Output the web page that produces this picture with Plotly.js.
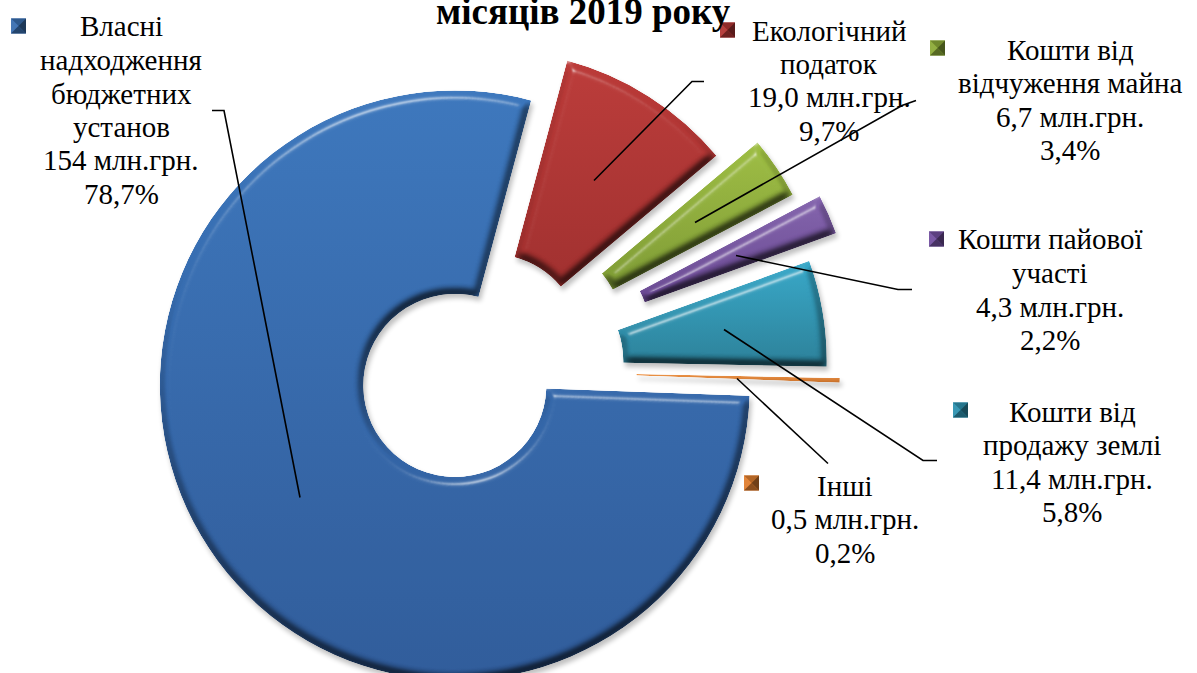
<!DOCTYPE html>
<html>
<head>
<meta charset="utf-8">
<script src="https://cdn.plot.ly/plotly-3.0.1.min.js"></script>
<style>
html,body{margin:0;padding:0;background:#fff;overflow:hidden;width:1197px;height:673px}
#wrap{position:absolute;left:0;top:0;width:1197px;height:673px;overflow:hidden}
#chart{position:absolute;left:0;top:-16.5px;width:1197px;height:773px}
</style>
</head>
<body>
<div id="wrap"><div id="chart"></div></div>
<svg width="0" height="0" style="position:absolute" id="fx">
<defs>
<filter id="bevel" filterUnits="userSpaceOnUse" x="-1000" y="-1000" width="3000" height="3000" color-interpolation-filters="sRGB">
  <feMorphology in="SourceAlpha" operator="erode" radius="2" result="e"/>
  <feGaussianBlur in="e" stdDeviation="3.5" result="b"/>
  <feDiffuseLighting in="b" surfaceScale="4" diffuseConstant="1.16" lighting-color="#ffffff" result="d">
    <feDistantLight azimuth="255" elevation="60"/>
  </feDiffuseLighting>
  <feBlend in="SourceGraphic" in2="d" mode="multiply" result="m"/>
  <feComposite in="m" in2="SourceAlpha" operator="in" result="shaded"/>
  <feSpecularLighting in="b" surfaceScale="6" specularConstant="0.55" specularExponent="30" lighting-color="#ffffff" result="s">
    <feDistantLight azimuth="255" elevation="35"/>
  </feSpecularLighting>
  <feComposite in="s" in2="SourceAlpha" operator="in" result="sc"/>
  <feBlend in="sc" in2="shaded" mode="screen" result="lit"/>
  <feComposite in="lit" in2="SourceAlpha" operator="in" result="lit2"/>
  <feGaussianBlur in="SourceAlpha" stdDeviation="2.5" result="sb"/>
  <feOffset in="sb" dx="2" dy="4" result="so"/>
  <feComponentTransfer in="so" result="shadow"><feFuncA type="linear" slope="0.25"/></feComponentTransfer>
  <feMerge><feMergeNode in="shadow"/><feMergeNode in="lit2"/></feMerge>
</filter>
</defs>
</svg>
<script>
// data
var categories = [['Власні','надходження','бюджетних','установ'], ['Екологічний','податок'], ['Кошти від','відчуження майна'], ['Кошти пайової','участі'], ['Кошти від','продажу землі'], ['Інші']];
var valuesMln  = [154, 19.0, 6.7, 4.3, 11.4, 0.5];
var valueText  = ['154', '19,0', '6,7', '4,3', '11,4', '0,5'];
var percentText = ['78,7%', '9,7%', '3,4%', '2,2%', '5,8%', '0,2%'];
var pulls = [0.085, 0.10, 0.232, 0.31, 0.195, 0.237];
var baseColors = ['#3a6fb0', '#b23634', '#8cab38', '#7350a0', '#2f93b0', '#e07f30'];
var topColors  = ['#3b76bc', '#bb3a38', '#9dbd42', '#8262ac', '#36a7c8', '#ee9244'];
var botColors  = ['#2e5a99', '#a02e2d', '#7d9a33', '#674690', '#2a7f98', '#c86f28'];
var titleText = 'місяців 2019 року';

// layout helpers
var W = 1197, H = 773, T = 16.5;
function px(x){ return x / W; }
function py(y){ return 1 - (y + T) / H; }

var labelPos = [[121, 26], [829, 30], [1070, 49], [1050, 239], [1072, 411], [845, 485]];
var linePitch = 33.5;
var keyPos   = [[11, 18], [720, 22], [930, 40], [929, 231], [953, 402], [744, 475]];
var leaders  = [
  [[212,110],[224,110],[300,497]],
  [[704,81],[692,81],[594,180]],
  [[916,100],[902,105],[695,222]],
  [[912,289],[898,289],[736,255]],
  [[937,460],[923,460],[724,329]],
  [[828,463],[737,378]]
];

var annotations = [];
var labelFont = {family:'"Liberation Serif", serif', size:29, color:'#000'};
categories.forEach(function(lines,i){
  lines.concat([valueText[i] + ' млн.грн.', percentText[i]]).forEach(function(t,j){
    annotations.push({
      xref:'paper', yref:'paper', x:px(labelPos[i][0]), y:py(labelPos[i][1] + j*linePitch),
      xanchor:'center', yanchor:'middle', showarrow:false, align:'center', text:t, font:labelFont
    });
  });
});
annotations.push({
  xref:'paper', yref:'paper', x:px(583), y:py(11), xanchor:'center', yanchor:'middle',
  showarrow:false, text:'<b>' + titleText + '</b>',
  font:{family:'"Liberation Serif", serif', size:37, color:'#000'}
});

var shapes = [];
leaders.forEach(function(pts){
  var d = pts.map(function(p,j){ return (j?'L':'M') + px(p[0]) + ',' + py(p[1]); }).join(' ');
  shapes.push({type:'path', xref:'paper', yref:'paper', path:d, line:{color:'#000', width:1.6}});
});
function shade(hex, f){
  var n = parseInt(hex.slice(1),16), r=n>>16, g=(n>>8)&255, b=n&255;
  function c(v){ return Math.max(0,Math.min(255,Math.round(f>1? v+(255-v)*(f-1) : v*f))); }
  return 'rgb('+c(r)+','+c(g)+','+c(b)+')';
}
keyPos.forEach(function(k,i){
  var s = 15, x0=k[0], y0=k[1], x1=x0+s, y1=y0+s, xm=x0+s/2, ym=y0+s/2;
  var faces = [
    [[x0,y0],[x1,y0],[xm,ym],0.8],
    [[x0,y0],[x0,y1],[xm,ym],1.05],
    [[x1,y0],[x1,y1],[xm,ym],0.5],
    [[x0,y1],[x1,y1],[xm,ym],0.62]
  ];
  shapes.push({type:'rect', xref:'paper', yref:'paper', x0:px(x0), x1:px(x1), y0:py(y0), y1:py(y1),
    fillcolor:baseColors[i], line:{width:0}});
  faces.forEach(function(f){
    var d='M'+px(f[0][0])+','+py(f[0][1])+' L'+px(f[1][0])+','+py(f[1][1])+' L'+px(f[2][0])+','+py(f[2][1])+' Z';
    shapes.push({type:'path', xref:'paper', yref:'paper', path:d, fillcolor:shade(baseColors[i],f[3]), line:{width:0}});
  });
});

var cx = 475, half = H/2;
var trace = {
  type:'pie', values:valuesMln, labels:categories.map(function(l){return l.join(' ');}), sort:false, direction:'clockwise',
  rotation:92, hole:0.31, pull:pulls, textinfo:'none', hoverinfo:'none', showlegend:false,
  marker:{colors:baseColors, line:{width:0}},
  domain:{x:[px(cx-half), px(cx+half)], y:[0,1]}
};
var layout = {
  width:W, height:H, margin:{l:0,r:0,t:0,b:0,pad:0}, paper_bgcolor:'#fff', plot_bgcolor:'#fff',
  showlegend:false, annotations:annotations, shapes:shapes,
  font:{family:'"Liberation Serif", serif'}
};
Plotly.newPlot('chart',[trace],layout,{staticPlot:true,displayModeBar:false}).then(function(gd){
  var defs = document.querySelector('#fx defs');
  var NS = 'http://www.w3.org/2000/svg';
  topColors.forEach(function(tc,i){
    var g = document.createElementNS(NS,'linearGradient');
    g.setAttribute('id','grad'+i); g.setAttribute('x1','0'); g.setAttribute('y1','0'); g.setAttribute('x2','0'); g.setAttribute('y2','1');
    [[0,tc],[1,botColors[i]]].forEach(function(st){
      var s = document.createElementNS(NS,'stop');
      s.setAttribute('offset',st[0]); s.setAttribute('stop-color',st[1]); g.appendChild(s);
    });
    defs.appendChild(g);
  });
  document.querySelectorAll('#chart .slice path.surface').forEach(function(p,i){
    p.style.fill = 'url(#grad'+i+')';
    p.style.filter = 'url(#bevel)';
  });
});
</script>
</body>
</html>
